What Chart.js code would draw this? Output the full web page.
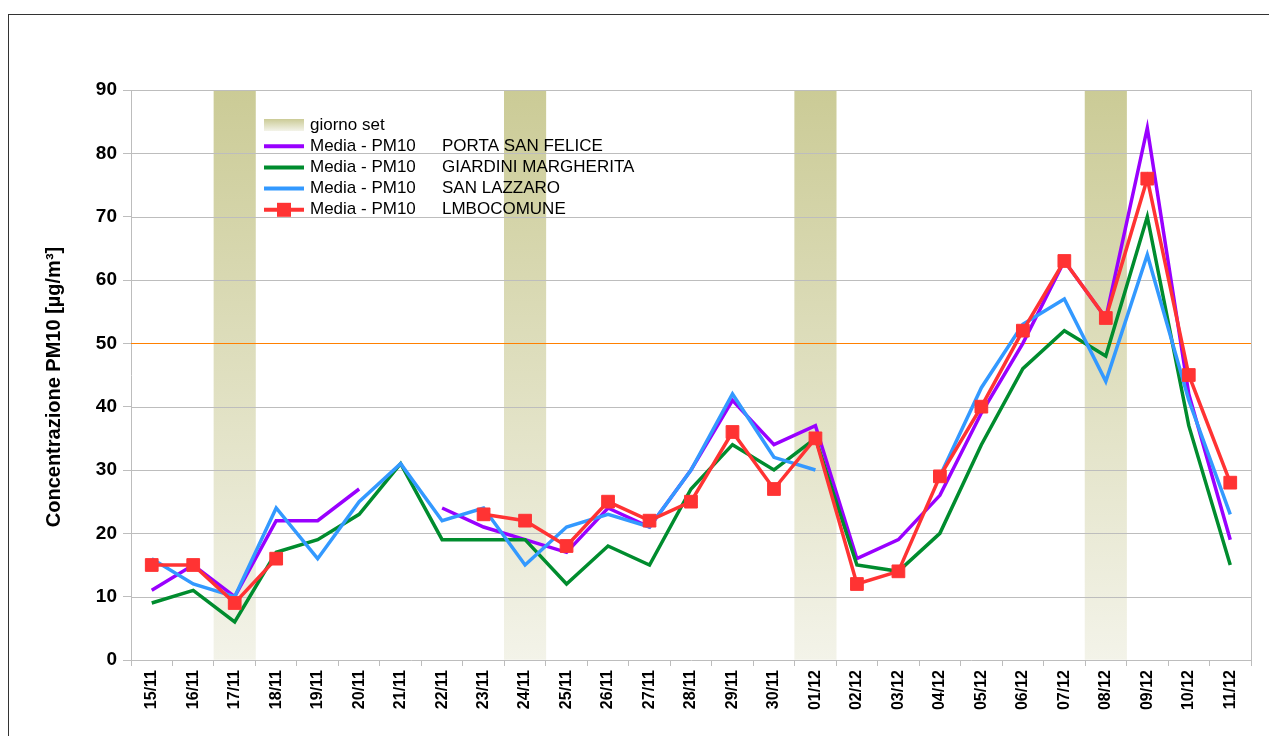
<!DOCTYPE html>
<html>
<head>
<meta charset="utf-8">
<script src="https://cdn.jsdelivr.net/npm/chart.js@4"></script>
<style>
  html, body { margin: 0; padding: 0; background: #ffffff; }
  canvas { display: block; }
</style>
</head>
<body>
<canvas id="c" width="1269" height="736"></canvas>
<script>
const categories = ['15/11','16/11','17/11','18/11','19/11','20/11','21/11','22/11','23/11','24/11','25/11','26/11','27/11','28/11','29/11','30/11','01/12','02/12','03/12','04/12','05/12','06/12','07/12','08/12','09/12','10/12','11/12'];

const giornoSet = [null,null,90,null,null,null,null,null,null,90,null,null,null,null,null,null,90,null,null,null,null,null,null,90,null,null,null];

const portaSanFelice = [11,15,10,22,22,27,null,24,21,19,17,24,21,30,41,34,37,16,19,26,39,50,63,54,84,42,19];
const giardiniMargherita = [9,11,6,17,19,23,31,19,19,19,12,18,15,27,34,30,35,15,14,20,34,46,52,48,70,37,15];
const sanLazzaro = [16,12,10,24,16,25,31,22,24,15,21,23,21,30,42,32,30,null,null,29,43,53,57,44,64,41,23];
const lmboComune = [15,15,9,16,null,null,null,null,23,22,18,25,22,25,36,27,35,12,14,29,40,52,63,54,76,45,28];

const limitValue = 50;
const yTicks = [0,10,20,30,40,50,60,70,80,90];

const legendPrefix = 'Media - PM10';
const legendNames = ['PORTA SAN FELICE','GIARDINI MARGHERITA','SAN LAZZARO','LMBOCOMUNE'];
const setLabel = 'giorno set';
const yTitle = 'Concentrazione PM10 [µg/m³]';

const COL = { purple:'#9900ff', green:'#008c2e', blue:'#3399ff', red:'#ff3333', grid:'#bdbdbd', limit:'#ff8000' };
const FONT = '"Liberation Sans", Arial, sans-serif';

function barGradient(ctx, top, bottom) {
  const g = ctx.createLinearGradient(0, top, 0, bottom);
  g.addColorStop(0, '#cbcb96');
  g.addColorStop(1, '#f3f3e9');
  return g;
}

const overlayPlugin = {
  id: 'overlay',
  beforeDraw(chart) {
    const ctx = chart.ctx;
    ctx.save();
    ctx.strokeStyle = '#333333';
    ctx.lineWidth = 1;
    ctx.strokeRect(8.5, 14.5, 3000, 3000);
    ctx.restore();
  },
  afterDatasetDraw(chart, args) {
    if (args.index !== 0) return;
    const ctx = chart.ctx, ca = chart.chartArea, y = chart.scales.y;
    ctx.save();
    ctx.strokeStyle = COL.grid;
    ctx.lineWidth = 1;
    yTicks.forEach(v => {
      if (v === 0) return;
      const py = Math.round(y.getPixelForValue(v)) + 0.5;
      ctx.beginPath(); ctx.moveTo(ca.left, py); ctx.lineTo(ca.right, py); ctx.stroke();
    });
    const rx = Math.round(ca.right) + 0.5;
    ctx.beginPath(); ctx.moveTo(rx, ca.top); ctx.lineTo(rx, ca.bottom); ctx.stroke();
    ctx.strokeStyle = COL.limit;
    const ly = Math.round(y.getPixelForValue(limitValue)) + 0.5;
    ctx.beginPath(); ctx.moveTo(ca.left, ly); ctx.lineTo(ca.right, ly); ctx.stroke();
    ctx.restore();
  },
  afterDraw(chart) {
    const ctx = chart.ctx;
    ctx.save();
    // y axis title
    ctx.save();
    ctx.translate(54, 387);
    ctx.rotate(-Math.PI / 2);
    ctx.font = 'bold 20px ' + FONT;
    ctx.textAlign = 'center';
    ctx.textBaseline = 'middle';
    ctx.fillStyle = '#000';
    ctx.fillText(yTitle, 0, 0);
    ctx.restore();

    const x0 = 264, x1 = 304, tx = 310, tx2 = 442, y0 = 125, dy = 21.2;
    ctx.font = '17px ' + FONT;
    ctx.textBaseline = 'middle';
    ctx.fillStyle = barGradient(ctx, y0 - 6, y0 + 6);
    ctx.fillRect(x0, y0 - 6, x1 - x0, 12);
    ctx.fillStyle = '#000';
    ctx.fillText(setLabel, tx, y0);
    const cols = [COL.purple, COL.green, COL.blue, COL.red];
    legendNames.forEach((n, i) => {
      const yy = y0 + dy * (i + 1);
      ctx.strokeStyle = cols[i];
      ctx.lineWidth = 4;
      ctx.beginPath(); ctx.moveTo(x0, yy); ctx.lineTo(x1, yy); ctx.stroke();
      if (i === 3) {
        ctx.fillStyle = COL.red;
        ctx.fillRect((x0 + x1) / 2 - 7, yy - 7, 14, 14);
      }
      ctx.fillStyle = '#000';
      ctx.fillText(legendPrefix, tx, yy);
      ctx.fillText(n, tx2, yy);
    });
    ctx.restore();
  }
};

const lineDs = (label, data, color, order, extra) => Object.assign({
  type: 'line', label, data, borderColor: color, backgroundColor: color,
  borderWidth: 3.5, pointRadius: 0, pointHoverRadius: 0, tension: 0,
  spanGaps: false, order, fill: false, borderCapStyle: 'butt', borderJoinStyle: 'miter'
}, extra || {});

new Chart(document.getElementById('c'), {
  data: {
    labels: categories,
    datasets: [
      {
        type: 'bar', label: setLabel, data: giornoSet, order: 10,
        barPercentage: 1, categoryPercentage: 1, borderWidth: 0,
        backgroundColor: (c) => {
          const ca = c.chart.chartArea;
          if (!ca) return '#ddddb0';
          return barGradient(c.chart.ctx, ca.top, ca.bottom);
        }
      },
      lineDs(legendPrefix + ' ' + legendNames[0], portaSanFelice, COL.purple, 3),
      lineDs(legendPrefix + ' ' + legendNames[1], giardiniMargherita, COL.green, 2),
      lineDs(legendPrefix + ' ' + legendNames[2], sanLazzaro, COL.blue, 1),
      lineDs(legendPrefix + ' ' + legendNames[3], lmboComune, COL.red, 0, {
        pointRadius: 9, pointStyle: 'rect', pointBorderWidth: 1,
        pointBackgroundColor: COL.red, pointBorderColor: COL.red
      })
    ]
  },
  options: {
    responsive: false,
    devicePixelRatio: 1,
    animation: false,
    events: [],
    layout: { padding: { top: 90, right: 18, left: 0, bottom: 0 } },
    plugins: { legend: { display: false }, tooltip: { enabled: false } },
    scales: {
      x: {
        offset: true,
        grid: { display: true, drawOnChartArea: false, drawTicks: true, tickLength: 6, color: COL.grid, offset: true },
        border: { display: true, color: COL.grid, width: 1 },
        ticks: {
          autoSkip: false, minRotation: 90, maxRotation: 90, padding: 4,
          color: '#000', font: { family: FONT, size: 16, weight: 'bold' }
        },
        afterFit: (s) => { s.height = 76; }
      },
      y: {
        min: 0, max: 90,
        afterBuildTicks: (s) => { s.ticks = yTicks.map(v => ({ value: v })); },
        grid: { color: COL.grid, lineWidth: 1, drawOnChartArea: false, drawTicks: true, tickLength: 8 },
        border: { display: true, color: COL.grid, width: 1 },
        ticks: { padding: 6, color: '#000', font: { family: FONT, size: 19, weight: 'bold' } },
        afterFit: (s) => { s.width = 131; }
      }
    }
  },
  plugins: [overlayPlugin]
});
</script>
</body>
</html>
